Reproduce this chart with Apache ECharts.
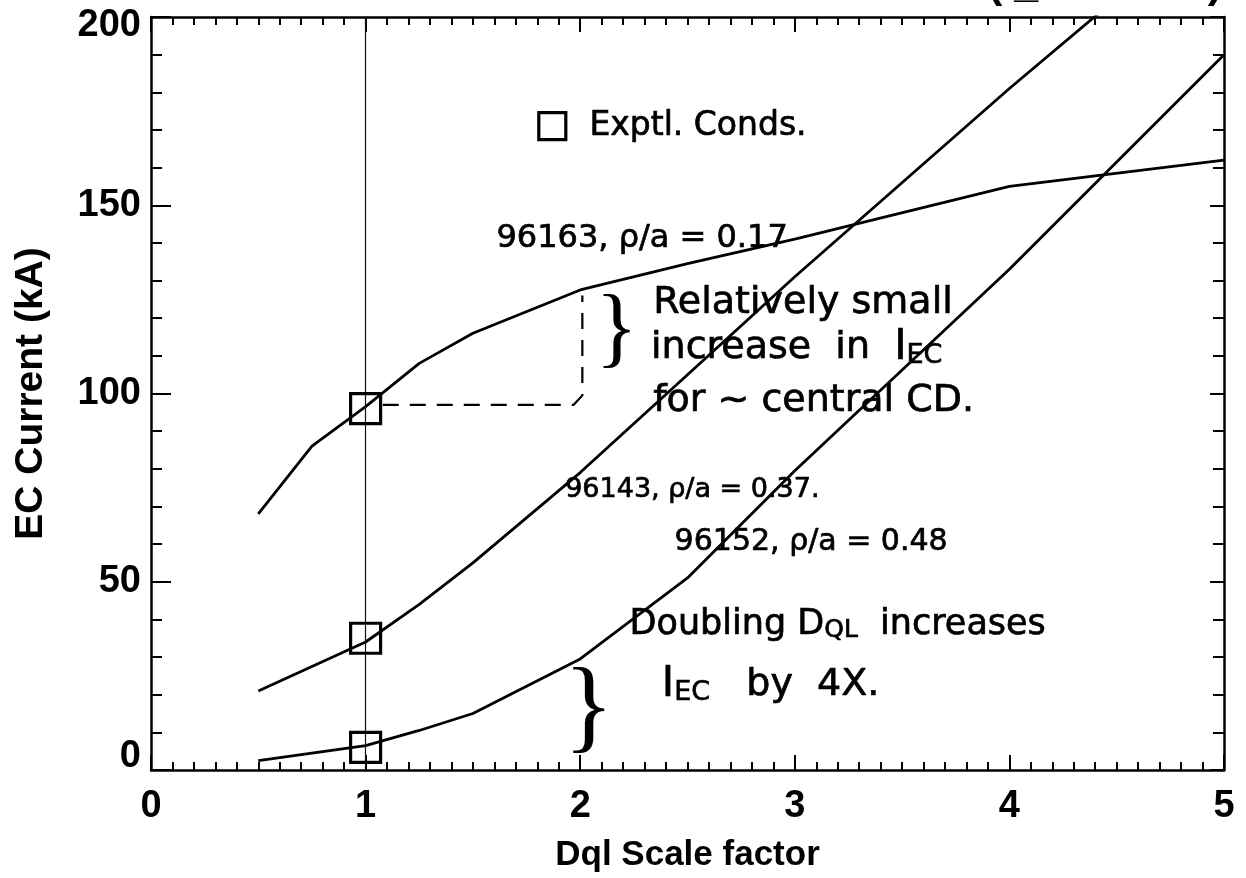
<!DOCTYPE html>
<html>
<head>
<meta charset="utf-8">
<script src="https://cdn.jsdelivr.net/npm/echarts@6/dist/echarts.min.js"></script>
<style>
  html, body { margin: 0; padding: 0; background: #fff; }
  #chart { width: 1246px; height: 878px; }
</style>
</head>
<body>
<div id="chart"></div>
<script>
// Dql scale factor scan points
const scaleFactor = [0.5, 0.75, 1, 1.25, 1.5, 2, 2.5, 3, 4, 5];
// EC current (kA) for each discharge
const current96163 = [68, 86, 96.5, 108, 116, 127.5, 134.5, 141, 155, 162];
const current96143 = [21, 27.5, 34, 44, 55, 79, 105, 131, 181, 229];
const current96152 = [2.5, 4.5, 6.5, 10.5, 15, 29.5, 51, 79.5, 133, 190];
// experimental conditions (Dql = 1)
const exptX = [1, 1, 1];
const exptY = [96, 35, 6];
// axis ticks
const xTicks = [0, 1, 2, 3, 4, 5];
const yTicks = [0, 50, 100, 150, 200];
// dashed guide from the 96163 experimental point up to Dql = 2
const guideX = [1.08, 1.97, 2.01, 2.01];
const guideY = [97, 97, 99.5, 126];

const AX = 'Liberation Sans, Arial, Helvetica, sans-serif';
const HAND = 'DejaVu Sans, sans-serif';
const black = '#000';

const pairs = (xs, ys) => xs.map((x, i) => [x, ys[i]]);

// handwritten notes: [x, y, text, size]
const notes = [
  [1.61, 141, '96163, ρ/a = 0.17', 32],
  [2.34, 124, 'Relatively small', 38],
  [2.33, 112, '{t|increase  in  }{b|I}{s|EC}', 38],
  [2.34, 98, 'for ~ central CD.', 38],
  [1.93, 74.5, '96143, ρ/a = 0.37.', 27],
  [2.44, 60.5, '96152, ρ/a = 0.48', 30],
  [2.23, 38.5, '{t|Doubling D}{s|QL}{t|  increases}', 35],
  [2.38, 22.5, '{b|I}{s|EC}{t|   by  4X.}', 38]
];
const braces = [
  [2.17, 116, 88],
  [2.04, 15.5, 104]
];

const chart = echarts.init(document.getElementById('chart'), null, { renderer: 'canvas' });

const axisCommon = {
  type: 'value',
  axisLine: { show: true, onZero: false, lineStyle: { color: black, width: 2.5 } },
  splitLine: { show: false },
  axisTick: { show: true, inside: true, lineStyle: { color: black, width: 2 } },
  minorTick: { show: true, lineStyle: { color: black, width: 2 } }
};

const tickFont = { fontFamily: AX, fontWeight: 'bold', fontSize: 38, color: black };
const handStroke = { textBorderColor: black, textBorderWidth: 0.7 };

const option = {
  animation: false,
  backgroundColor: '#fff',
  grid: { left: 151, right: 22, top: 17, bottom: 103 },
  graphic: [{
    type: 'text',
    left: 988,
    top: -36,
    style: { text: '(I_EC scan)', font: 'bold 43px ' + AX, fill: black }
  }],
  xAxis: [
    Object.assign({}, axisCommon, {
      min: xTicks[0], max: xTicks[xTicks.length - 1], interval: 1, position: 'bottom',
      axisTick: Object.assign({}, axisCommon.axisTick, { length: 15 }),
      minorTick: Object.assign({}, axisCommon.minorTick, { splitNumber: 10, length: 8 }),
      axisLabel: Object.assign({}, tickFont, { margin: 18 }),
      name: 'Dql Scale factor', nameLocation: 'middle', nameGap: 68,
      nameTextStyle: { color: black, fontFamily: AX, fontWeight: 'bold', fontSize: 35 }
    }),
    Object.assign({}, axisCommon, {
      min: xTicks[0], max: xTicks[xTicks.length - 1], interval: 1, position: 'top',
      axisTick: Object.assign({}, axisCommon.axisTick, { length: 15 }),
      minorTick: Object.assign({}, axisCommon.minorTick, { splitNumber: 10, length: 8 }),
      axisLabel: { show: false }
    })
  ],
  yAxis: [
    Object.assign({}, axisCommon, {
      min: yTicks[0], max: yTicks[yTicks.length - 1], interval: 50, position: 'left',
      axisTick: Object.assign({}, axisCommon.axisTick, { length: 20 }),
      minorTick: Object.assign({}, axisCommon.minorTick, { splitNumber: 5, length: 11 }),
      axisLabel: Object.assign({}, tickFont, {
        margin: 10,
        formatter: v => v === yTicks[0] ? '{lo|' + v + '}' : (v === yTicks[yTicks.length - 1] ? '{hi|' + v + '}' : '{n|' + v + '}'),
        rich: {
          n: Object.assign({}, tickFont),
          lo: Object.assign({}, tickFont, { padding: [0, 0, 26, 0] }),
          hi: Object.assign({}, tickFont, { padding: [18, 0, 0, 0] })
        }
      }),
      name: 'EC Current (kA)', nameLocation: 'middle', nameGap: 100,
      nameTextStyle: { color: black, fontFamily: AX, fontWeight: 'bold', fontSize: 39 }
    }),
    Object.assign({}, axisCommon, {
      min: yTicks[0], max: yTicks[yTicks.length - 1], interval: 50, position: 'right',
      axisTick: Object.assign({}, axisCommon.axisTick, { length: 14 }),
      minorTick: Object.assign({}, axisCommon.minorTick, { splitNumber: 5, length: 11 }),
      axisLabel: { show: false }
    })
  ],
  series: [
    {
      type: 'line', name: '96163', data: pairs(scaleFactor, current96163),
      showSymbol: false, symbol: 'none', clip: true, silent: true,
      lineStyle: { color: black, width: 2.8 }
    },
    {
      type: 'line', name: '96143', data: pairs(scaleFactor, current96143),
      showSymbol: false, symbol: 'none', clip: true, silent: true,
      lineStyle: { color: black, width: 2.8 }
    },
    {
      type: 'line', name: '96152', data: pairs(scaleFactor, current96152),
      showSymbol: false, symbol: 'none', clip: true, silent: true,
      lineStyle: { color: black, width: 2.8 }
    },
    {
      type: 'line', name: 'guide', data: pairs(guideX, guideY),
      showSymbol: false, symbol: 'none', silent: true,
      lineStyle: { color: black, width: 2.2, type: [16, 11] }
    },
    {
      type: 'scatter', name: 'Exptl. Conds.', data: pairs(exptX, exptY),
      symbol: 'rect', symbolSize: 30, silent: true, z: 5,
      itemStyle: { color: 'rgba(0,0,0,0)', borderColor: black, borderWidth: 3.2, opacity: 1 },
      markLine: {
        silent: true, symbol: ['none', 'none'], label: { show: false },
        lineStyle: { color: '#111', width: 1.2, type: 'solid', opacity: 1 },
        data: [{ xAxis: 1 }]
      }
    },
    {
      // key for the experimental-condition squares
      type: 'scatter', name: 'key', data: [[1.87, 171]],
      symbol: 'rect', symbolSize: 27, silent: true,
      itemStyle: { color: 'rgba(0,0,0,0)', borderColor: black, borderWidth: 3.2, opacity: 1 },
      label: Object.assign({ show: true, position: 'right', distance: 22, formatter: 'Exptl. Conds.', fontFamily: HAND, fontSize: 33, color: black }, handStroke)
    },
    {
      type: 'scatter', name: 'notes', symbolSize: 0, silent: true,
      itemStyle: { opacity: 1 },
      data: notes.map(n => ({
        value: [n[0], n[1]],
        label: Object.assign({
          show: true, position: 'right', distance: 0, formatter: n[2],
          fontFamily: HAND, fontSize: n[3], color: black,
          rich: {
            t: Object.assign({ fontFamily: HAND, fontSize: n[3], color: black }, handStroke),
            b: Object.assign({ fontFamily: HAND, fontSize: Math.round(n[3] * 1.1), color: black }, handStroke),
            s: Object.assign({ fontFamily: HAND, fontSize: Math.round(n[3] * 0.7), color: black, verticalAlign: 'bottom' }, handStroke)
          }
        }, handStroke)
      }))
    },
    {
      type: 'scatter', name: 'braces', symbolSize: 0, silent: true,
      itemStyle: { opacity: 1 },
      data: braces.map(b => ({
        value: [b[0], b[1]],
        label: { show: true, position: 'inside', formatter: '}', fontFamily: 'Liberation Serif, serif', fontSize: b[2], color: black }
      }))
    }
  ]
};

chart.setOption(option);
</script>
</body>
</html>
